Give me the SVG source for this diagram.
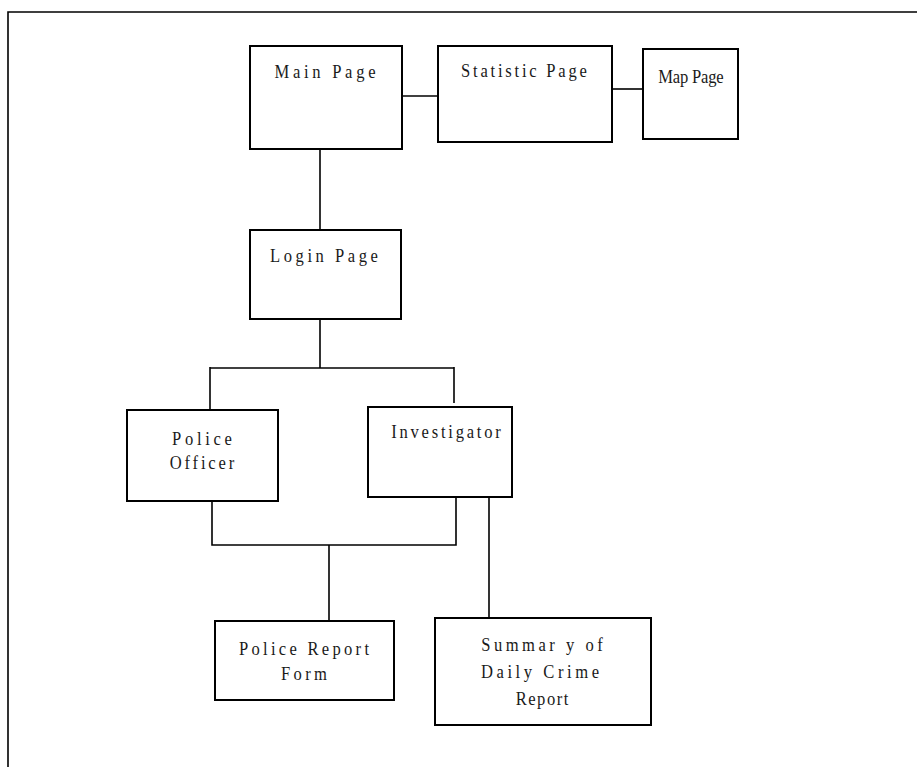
<svg xmlns="http://www.w3.org/2000/svg" width="917" height="767" viewBox="0 0 917 767">
<style>
.box{fill:#fff;stroke:#000;stroke-width:2}
.c{fill:none;stroke:#000;stroke-width:1.6}
text{font-family:"Liberation Serif","Times New Roman",serif;font-size:19.5px;fill:#1a1a1a;text-anchor:middle}
</style>
<rect width="917" height="767" fill="#fff"/>
<path d="M8,767 V12 H917" fill="none" stroke="#000" stroke-width="1.6"/>
<g id="connectors">
<path class="c" d="M402,96 H438"/>
<path class="c" d="M611,89 H643"/>
<path class="c" d="M320,149 V230"/>
<path class="c" d="M320,319 V368"/>
<path class="c" d="M210,368 H454"/>
<path class="c" d="M210,367 V410"/>
<path class="c" d="M454,367 V403"/>
<path class="c" d="M212,501 V545 H456 V497"/>
<path class="c" d="M329,545 V621"/>
<path class="c" d="M489,497 V618"/>
</g>
<g id="main-page"><rect class="box" x="250" y="46" width="152" height="103"/><text transform="translate(325,78) scale(0.85,1)" textLength="119" lengthAdjust="spacing">Main Page</text></g>
<g id="statistic-page"><rect class="box" x="438" y="46" width="174" height="96"/><text transform="translate(524,77) scale(0.85,1)" textLength="148" lengthAdjust="spacing">Statistic Page</text></g>
<g id="map-page"><rect class="box" x="643" y="49" width="95" height="90"/><text transform="translate(691,83) scale(0.85,1)" textLength="77" lengthAdjust="spacing">Map Page</text></g>
<g id="login-page"><rect class="box" x="250" y="230" width="151" height="89"/><text transform="translate(324,262) scale(0.85,1)" textLength="127" lengthAdjust="spacing">Login Page</text></g>
<g id="police-officer"><rect class="box" x="127" y="410" width="151" height="91"/><text transform="translate(202,445) scale(0.85,1)" textLength="70.5" lengthAdjust="spacing">Police</text><text transform="translate(202,469) scale(0.85,1)" textLength="76" lengthAdjust="spacing">Officer</text></g>
<g id="investigator"><rect class="box" x="368" y="407" width="144" height="90"/><text transform="translate(446,438) scale(0.85,1)" textLength="129" lengthAdjust="spacing">Investigator</text></g>
<g id="police-report-form"><rect class="box" x="215" y="621" width="179" height="79"/><text transform="translate(304,655) scale(0.85,1)" textLength="153" lengthAdjust="spacing">Police Report</text><text transform="translate(304,680) scale(0.85,1)" textLength="54" lengthAdjust="spacing">Form</text></g>
<g id="summary-report"><rect class="box" x="435" y="618" width="216" height="107"/><text transform="translate(542,651) scale(0.85,1)" textLength="143" lengthAdjust="spacing">Summar y of</text><text transform="translate(540,678) scale(0.85,1)" textLength="139" lengthAdjust="spacing">Daily Crime</text><text transform="translate(542,705) scale(0.85,1)" textLength="62" lengthAdjust="spacing">Report</text></g>
</svg>
